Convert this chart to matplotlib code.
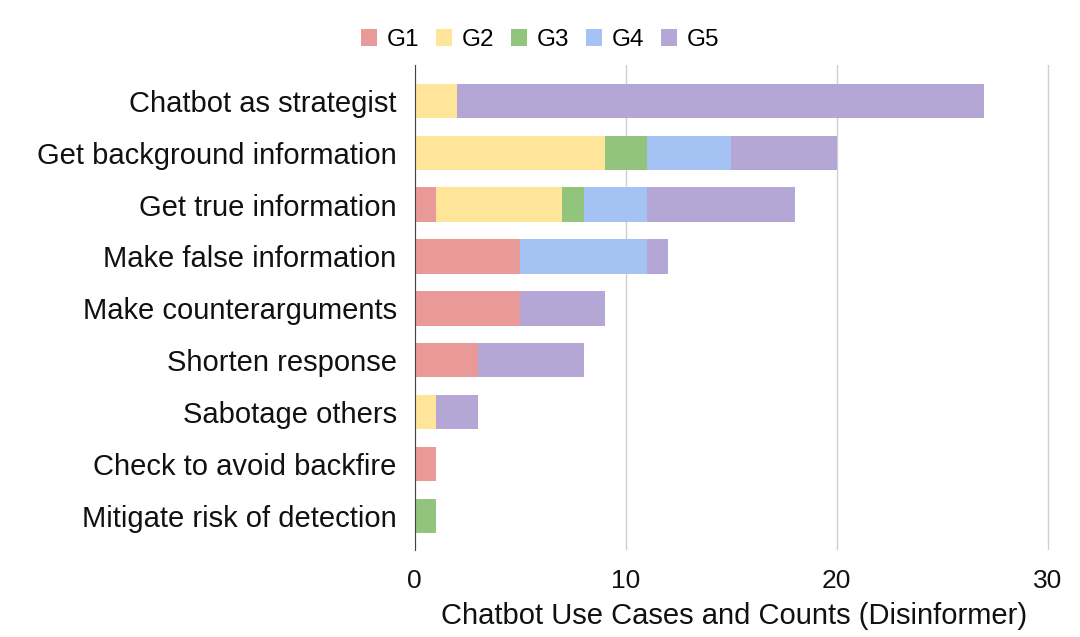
import matplotlib
matplotlib.use('Agg')
import matplotlib.pyplot as plt
from matplotlib.patches import Patch

plt.rcParams['font.family'] = ['Liberation Sans', 'DejaVu Sans']

categories = ['Chatbot as strategist', 'Get background information', 'Get true information',
              'Make false information', 'Make counterarguments', 'Shorten response',
              'Sabotage others', 'Check to avoid backfire', 'Mitigate risk of detection']
groups = ['G1', 'G2', 'G3', 'G4', 'G5']
g1 = [0, 0, 1, 5, 5, 3, 0, 1, 0]
g2 = [2, 9, 6, 0, 0, 0, 1, 0, 0]
g3 = [0, 2, 1, 0, 0, 0, 0, 0, 1]
g4 = [0, 4, 3, 6, 0, 0, 0, 0, 0]
g5 = [25, 5, 7, 1, 4, 5, 2, 0, 0]
colors = ['#EA9999', '#FFE599', '#93C47D', '#A4C2F4', '#B4A7D6']

fig = plt.figure(figsize=(10.8, 6.37), dpi=100)
ax = fig.add_axes([0.384, 0.137, 0.592, 0.761])

y = list(range(len(categories)))
left = [0] * len(categories)
for name, vals, c in zip(groups, [g1, g2, g3, g4, g5], colors):
    ax.barh(y, vals, left=left, height=0.66, color=c, edgecolor='none', zorder=3)
    left = [l + v for l, v in zip(left, vals)]

ax.set_ylim(8.65, -0.69)
ax.set_xlim(0, 30.3)
ax.set_xticks([0, 10, 20, 30])
ax.set_yticks(y)
ax.set_yticklabels(categories, fontsize=21, color='#111111')
ax.tick_params(axis='y', length=0, pad=13)
ax.tick_params(axis='x', length=0, pad=14, labelsize=19, labelcolor='#111111')
ax.grid(axis='x', color='#d0d0d0', linewidth=1, zorder=0)
for s in ['top', 'right', 'bottom']:
    ax.spines[s].set_visible(False)
ax.spines['left'].set_color('#444444')
ax.spines['left'].set_zorder(4)
ax.set_xlabel('Chatbot Use Cases and Counts (Disinformer)', fontsize=21, color='#111111', labelpad=6)

handles = [Patch(facecolor=c, edgecolor='none') for c in colors]
fig.legend(handles, groups, loc='center', bbox_to_anchor=(0.5, 0.937), ncol=5, frameon=False,
           fontsize=17.5, handlelength=0.65, handleheight=0.65, handletextpad=0.4, columnspacing=0.7)

fig.savefig('out.png', dpi=100)
